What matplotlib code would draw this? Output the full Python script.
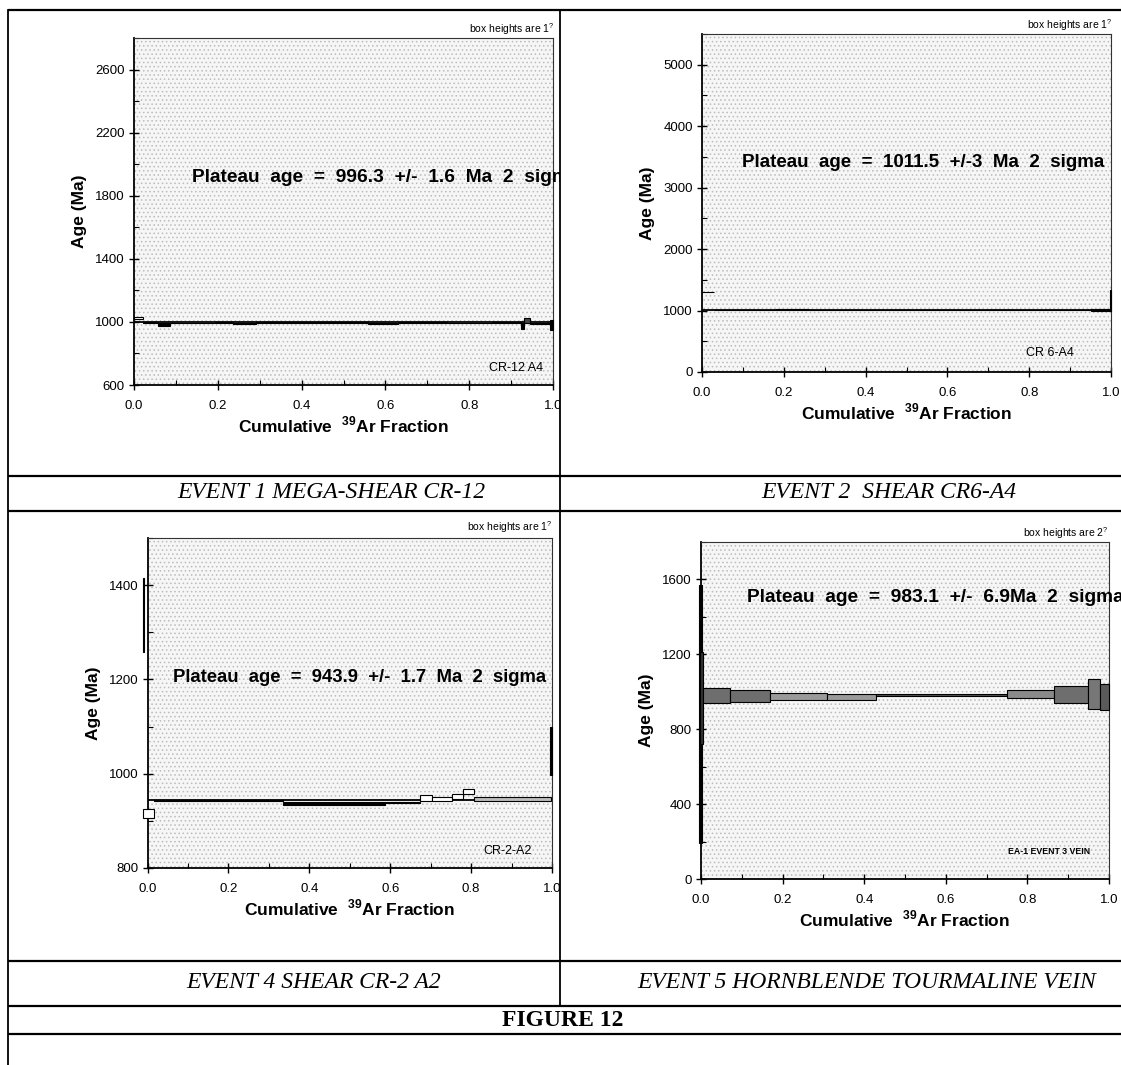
import matplotlib
matplotlib.use("Agg")
import matplotlib.pyplot as plt
from matplotlib.patches import Rectangle
from matplotlib.ticker import MultipleLocator
from matplotlib.transforms import Bbox, TransformedBbox

plt.rcParams['font.family'] = ['Liberation Sans', 'DejaVu Sans']
plt.rcParams['mathtext.fontset'] = 'custom'
plt.rcParams['mathtext.rm'] = 'Liberation Sans'
plt.rcParams['mathtext.bf'] = 'Liberation Sans:bold'
plt.rcParams['hatch.linewidth'] = 0.6

W, H = 1121, 1065

# ---- data: step boxes (cumulative 39Ar fraction start/end, age low/high in Ma)
# panel 1 - CR-12 A4
p1_x0 = [0.000, 0.022, 0.058, 0.087, 0.194, 0.237, 0.292, 0.559, 0.631, 0.747, 0.855, 0.923, 0.931, 0.946, 0.994]
p1_x1 = [0.022, 0.058, 0.087, 0.194, 0.237, 0.292, 0.559, 0.631, 0.747, 0.855, 0.923, 0.931, 0.946, 0.994, 1.000]
p1_lo = [1017, 994, 975, 992, 996, 986, 995, 986, 995, 991, 995, 954, 996, 985, 950]
p1_hi = [1030, 998, 992, 996, 1000, 993, 999, 993, 999, 995, 999, 996, 1024, 990, 1013]
p1_plateau = 996.3

# panel 2 - CR 6-A4
p2_x0 = [0.000, 0.030, 0.180, 0.260, 0.950, 0.997]
p2_x1 = [0.030, 0.180, 0.260, 0.950, 0.997, 1.000]
p2_lo = [1295, 1008, 1004, 1008, 998, 990]
p2_hi = [1305, 1015, 1020, 1015, 1024, 1340]
p2_plateau = 1011.5

# panel 3 - CR-2-A2
p3_x0 = [-0.012, -0.011, 0.015, 0.336, 0.588, 0.674, 0.703, 0.752, 0.781, 0.808, 0.996]
p3_x1 = [-0.008, 0.015, 0.336, 0.588, 0.674, 0.703, 0.752, 0.781, 0.808, 0.997, 1.000]
p3_lo = [1258, 907, 942, 934, 937, 942, 942, 946, 958, 943, 997]
p3_hi = [1415, 925, 945, 941, 941, 955, 950, 957, 968, 950, 1099]
p3_plateau = 943.9

# panel 4 - EA-1 EVENT 3 VEIN
p4_x0 = [-0.004, -0.003, 0.006, 0.070, 0.170, 0.310, 0.430, 0.749, 0.865, 0.949, 0.978]
p4_x1 = [0.002, 0.005, 0.070, 0.170, 0.310, 0.430, 0.749, 0.865, 0.949, 0.978, 1.000]
p4_lo = [190, 720, 940, 945, 955, 957, 975, 965, 940, 907, 902]
p4_hi = [1570, 1210, 1018, 1009, 995, 988, 990, 1012, 1029, 1068, 1042]
p4_plateau = 983.1

plateau_texts = [
    'Plateau  age  =  996.3  +/-  1.6  Ma  2  sigma',
    'Plateau  age  =  1011.5  +/-3  Ma  2  sigma',
    'Plateau  age  =  943.9  +/-  1.7  Ma  2  sigma',
    'Plateau  age  =  983.1  +/-  6.9Ma  2  sigma',
]
sample_names = ['CR-12 A4', 'CR 6-A4', 'CR-2-A2', 'EA-1 EVENT 3 VEIN']
box_notes = ['1', '1', '1', '2']
captions = ['EVENT 1 MEGA-SHEAR CR-12', 'EVENT 2  SHEAR CR6-A4',
            'EVENT 4 SHEAR CR-2 A2', 'EVENT 5 HORNBLENDE TOURMALINE VEIN']
y_limits = [(600, 2800), (0, 5500), (800, 1500), (0, 1800)]
y_ticks = [
    [600, 1000, 1400, 1800, 2200, 2600],
    [0, 1000, 2000, 3000, 4000, 5000],
    [800, 1000, 1200, 1400],
    [0, 400, 800, 1200, 1600],
]
x_ticks = [0.0, 0.2, 0.4, 0.6, 0.8, 1.0]
y_minor = [200, 500, 100, 200]

# styles per box
p1_face = ['white'] + ['black'] * 11 + ['#444444', 'black', 'black']
p2_face = ['black'] * 6
p3_face = ['black', 'white', 'black', 'black', 'black', 'white', 'white', 'white', 'white', '#bdbdbd', 'black']
p4_face = ['black', '#333333', '#6e6e6e', '#6e6e6e', '#9a9a9a', '#9a9a9a', '#555555', '#8a8a8a', '#6e6e6e', '#777777', '#5a5a5a']

fig = plt.figure(figsize=(W / 100, H / 100), dpi=100)
fig.patch.set_facecolor('white')


def px_axes(l, t, r, b):
    return fig.add_axes([l / W, 1 - b / H, (r - l) / W, (b - t) / H])


def fx(x):
    return x / W


def fy(y):
    return 1 - y / H


# frame lines & captions in a full-figure overlay
bg = fig.add_axes([0, 0, 1, 1])
bg.set_xlim(0, W)
bg.set_ylim(H, 0)
bg.axis('off')
bg.set_zorder(-1)
for yy in [10, 476, 511, 961, 1006, 1034]:
    bg.plot([8, W], [yy, yy], color='black', lw=1.6, solid_capstyle='butt')
bg.plot([8, 8], [10, H], color='black', lw=1.3)
bg.plot([560, 560], [10, 1006], color='black', lw=1.3)

cap_pos = [(331, 493), (889, 493), (314, 983), (867, 983)]
for txt, (cx, cy) in zip(captions, cap_pos):
    bg.text(cx, cy, txt, family='Liberation Serif', style='italic', fontsize=17,
            ha='center', va='center')
bg.text(563, 1020, 'FIGURE 12', family='Liberation Serif', weight='bold', fontsize=17,
        ha='center', va='center')

# axes geometry (pixel boxes) and text positions
axes_px = [(134, 38, 553, 385), (702, 34, 1111, 372), (147.5, 538, 552, 868), (701, 542, 1109, 879)]
plateau_pos = [(192, 178), (742, 163), (173, 677), (747, 598)]
plateau_size = [13.8, 13.5, 13.3, 13.8]
name_pos = [(543, 368), (1074, 353), (532, 851), (1090, 852)]
note_pos = [(554, 29), (1112, 25), (552, 527), (1108, 533)]
clip_right = [560, W, 560, W]

steps = [
    (p1_x0, p1_x1, p1_lo, p1_hi, p1_face, p1_plateau, (0.0, 1.0)),
    (p2_x0, p2_x1, p2_lo, p2_hi, p2_face, p2_plateau, (0.0, 1.0)),
    (p3_x0, p3_x1, p3_lo, p3_hi, p3_face, p3_plateau, (0.0, 0.81)),
    (p4_x0, p4_x1, p4_lo, p4_hi, p4_face, p4_plateau, (0.0, 1.0)),
]

for i, (x0, x1, lo, hi, face, plat, prange) in enumerate(steps):
    ax = px_axes(*axes_px[i])
    ax.set_xlim(0, 1)
    ax.set_ylim(*y_limits[i])
    ax.set_facecolor('#f6f6f6')
    ax.add_patch(Rectangle((0, 0), 1, 1, transform=ax.transAxes, facecolor='none',
                           edgecolor='#bcbcbc', lw=0, hatch='....', zorder=0))

    widths = [b - a for a, b in zip(x0, x1)]
    heights = [b - a for a, b in zip(lo, hi)]
    bars = ax.bar(x0, heights, width=widths, bottom=lo, align='edge',
                  color=face, edgecolor='black', linewidth=0.8, zorder=3)
    for b in bars:
        b.set_clip_on(False)
    ax.hlines(plat, prange[0], prange[1], color='black', lw=1.3, zorder=2)

    ax.set_xticks(x_ticks)
    ax.set_yticks(y_ticks[i])
    ax.xaxis.set_minor_locator(MultipleLocator(0.1))
    ax.yaxis.set_minor_locator(MultipleLocator(y_minor[i]))
    ax.xaxis.set_major_formatter('{x:.1f}')
    ax.yaxis.set_major_formatter('{x:.0f}')
    ax.tick_params(which='major', direction='inout', length=7, width=1.0, labelsize=9.5, pad=3)
    ax.tick_params(which='minor', direction='in', length=3.5, width=0.8)
    ax.tick_params(axis='x', which='major', pad=7)
    for s in ['top', 'right']:
        ax.spines[s].set_linewidth(0.8)
        ax.spines[s].set_color('#333333')
    for s in ['left', 'bottom']:
        ax.spines[s].set_linewidth(1.3)

    clip = TransformedBbox(Bbox([[0, 0], [fx(clip_right[i]), 1]]), fig.transFigure)
    for t in ax.xaxis.get_major_ticks():
        t.label1.set_clip_box(clip)
        t.label1.set_clip_on(True)

    ax.set_ylabel('Age (Ma)', fontsize=12.5, fontweight='bold', labelpad=6)
    ax.set_xlabel(r'Cumulative  $^{\mathbf{39}}$Ar Fraction', fontsize=12.5,
                  fontweight='bold', labelpad=2)

    px, py = plateau_pos[i]
    pt = fig.text(fx(px), fy(py), plateau_texts[i], fontsize=plateau_size[i],
                  fontweight='bold', ha='left', va='center')
    pt.set_clip_box(clip)
    pt.set_clip_on(True)

    nx, ny = name_pos[i]
    if i == 3:
        fig.text(fx(nx), fy(ny), sample_names[i], fontsize=6.3, fontweight='bold',
                 ha='right', va='center')
    else:
        fig.text(fx(nx), fy(ny), sample_names[i], fontsize=9, ha='right', va='center')

    bx, by = note_pos[i]
    fig.text(fx(bx), fy(by), 'box heights are ' + box_notes[i] + r'$^{?}$',
             fontsize=7.5, ha='right', va='center')

fig.savefig('out.png', dpi=100, facecolor='white')
